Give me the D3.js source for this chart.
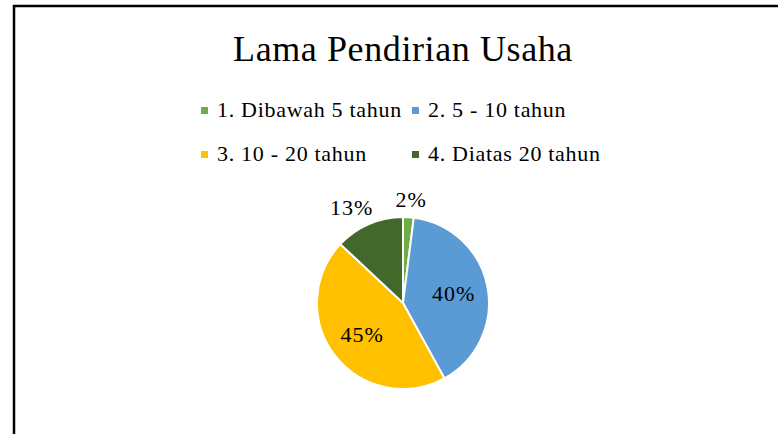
<!DOCTYPE html>
<html>
<head>
<meta charset="utf-8">
<script src="https://cdn.jsdelivr.net/npm/d3@7"></script>
<style>
  html, body { margin: 0; padding: 0; background: #fff; }
  svg { display: block; }
  text { font-family: "Liberation Serif", "Times New Roman", serif; fill: #000; }
</style>
</head>
<body>
<div id="chart"></div>
<script>
  'use strict'

  var title = 'Lama Pendirian Usaha'
  var categories = ['1. Dibawah 5 tahun', '2. 5 - 10 tahun', '3. 10 - 20 tahun', '4. Diatas 20 tahun']
  var values = [2, 40, 45, 13]
  var colors = ['#70AD47', '#5B9BD5', '#FFC000', '#43682B']

  var width = 778,
      height = 434,
      cx = 403,
      cy = 303,
      radius = 86

  var svg = d3.select('#chart').append('svg')
      .attr('width', width)
      .attr('height', height)

  // frame (cropped on the right and bottom)
  svg.append('rect')
      .attr('x', 14)
      .attr('y', 6)
      .attr('width', width + 20)
      .attr('height', height + 20)
      .attr('fill', 'none')
      .attr('stroke', '#000')
      .attr('stroke-width', 2.5)

  svg.append('text')
      .attr('x', 403)
      .attr('y', 61)
      .attr('text-anchor', 'middle')
      .attr('font-family', 'Liberation Serif')
      .style('font-size', '36px')
      .style('letter-spacing', '0.6px')
      .text(title)

  // legend, two columns
  var colX = [201, 412],
      rowY = [117, 161]

  var legend = svg.append('g').selectAll('g')
      .data(categories)
      .enter()
      .append('g')
      .attr('transform', function (d, i) {
          return 'translate(' + colX[i % 2] + ',' + rowY[Math.floor(i / 2)] + ')'
      })

  legend.append('rect')
      .attr('x', 0)
      .attr('y', -10)
      .attr('width', 7)
      .attr('height', 7)
      .attr('fill', function (d, i) { return colors[i] })

  legend.append('text')
      .attr('x', 16)
      .attr('y', 0)
      .attr('font-family', 'Liberation Serif')
      .style('font-size', '22px')
      .style('letter-spacing', '0.7px')
      .text(function (d) { return d })

  // pie
  var pie = d3.pie().sort(null).value(function (d) { return d })
  var arcs = pie(values)

  var arc = d3.arc().innerRadius(0).outerRadius(radius)
  var inner = d3.arc().innerRadius(radius * 0.6).outerRadius(radius * 0.6)
  var outer = d3.arc().innerRadius(radius * 1.13).outerRadius(radius * 1.13)

  var g = svg.append('g')
      .attr('transform', 'translate(' + cx + ',' + cy + ')')

  g.selectAll('path')
      .data(arcs)
      .enter()
      .append('path')
      .attr('d', arc)
      .attr('fill', function (d, i) { return colors[i] })
      .attr('stroke', '#fff')
      .attr('stroke-width', 2)

  g.selectAll('text')
      .data(arcs)
      .enter()
      .append('text')
      .attr('text-anchor', 'middle')
      .attr('dominant-baseline', 'central')
      .attr('font-family', 'Liberation Serif')
      .style('font-size', '22px')
      .style('letter-spacing', '1px')
      .attr('transform', function (d) {
          var small = d.data < 20
          var p = small ? outer.centroid(d) : inner.centroid(d)
          if (small) {
              var a = (d.startAngle + d.endAngle) / 2
              p[0] += Math.sin(a) * 32
              p[1] -= Math.cos(a) * 7
          }
          return 'translate(' + p[0] + ',' + p[1] + ')'
      })
      .text(function (d) { return d.data + '%' })
</script>
</body>
</html>
